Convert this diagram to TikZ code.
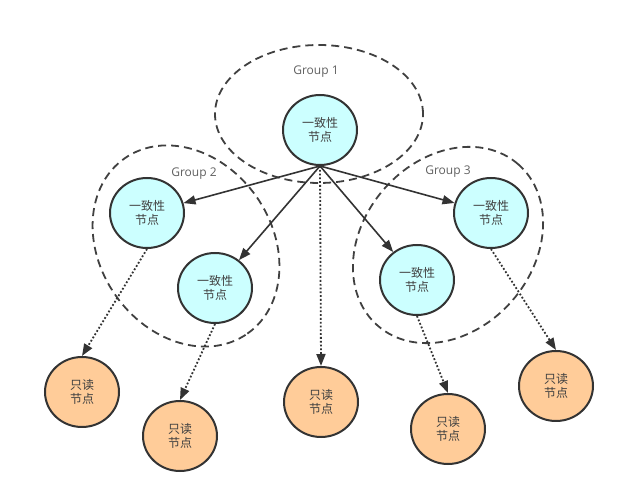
\documentclass[tikz,border=0pt]{standalone}
\usepackage{fontspec}
\setmainfont{Open Sans}
\newfontfamily\cjk{Noto Sans CJK SC}
\usetikzlibrary{arrows.meta,shapes.geometric}

\definecolor{nodeline}{HTML}{333333}
\definecolor{consfill}{HTML}{CCFFFF}
\definecolor{readfill}{HTML}{FFCC99}
\definecolor{labelgray}{HTML}{606060}

\begin{document}
\begin{tikzpicture}[x=1pt,y=1pt,
  cons/.style={ellipse, draw=nodeline, line width=2pt, fill=consfill,
    minimum width=74pt, minimum height=70pt, inner sep=0pt, align=center,
    font=\cjk\fontsize{12}{14}\selectfont, text=black!75},
  rnode/.style={cons, fill=readfill},
  group/.style={draw=black!75, line width=1.8pt, dash pattern=on 8pt off 5pt},
  glabel/.style={font=\fontsize{12}{14}\selectfont, text=labelgray},
  link/.style={draw=black!80, line width=1.6pt, -{Triangle[length=12pt,width=9pt]}},
  rlink/.style={link, line width=1.8pt, dotted}
]
\useasboundingbox (0,0) rectangle (623,500);
% groups
\draw[group] (319,386) ellipse [x radius=104, y radius=69];
\draw[group, rotate around={-55:(186,254)}] (186,254) ellipse [x radius=107, y radius=86];
\draw[group, rotate around={49:(448,255)}] (448,255) ellipse [x radius=107, y radius=85];
\node[glabel] (g1) at (316,428) {Group 1};
\node[glabel] (g2) at (194,326) {Group 2};
\node[glabel] (g3) at (448,328) {Group 3};
% consistency nodes
\node[cons] (c1) at (320,370) {一致性\\节点};
\node[cons] (c2) at (147,287) {一致性\\节点};
\node[cons] (c3) at (215,212) {一致性\\节点};
\node[cons] (c4) at (491,287) {一致性\\节点};
\node[cons] (c5) at (417,220) {一致性\\节点};
% read-only nodes
\node[rnode] (r1) at (82,108) {只读\\节点};
\node[rnode] (r2) at (180,64) {只读\\节点};
\node[rnode] (r3) at (321,98) {只读\\节点};
\node[rnode] (r4) at (448,71) {只读\\节点};
\node[rnode] (r5) at (556,114) {只读\\节点};
% links
\draw[link] (c1.south) -- (c2);
\draw[link] (c1.south) -- (c3);
\draw[link] (c1.south) -- (c4);
\draw[link] (c1.south) -- (c5);
\draw[rlink] (c1.south) -- (r3.north);
\draw[rlink] (c2.south) -- (r1.north);
\draw[rlink] (c3.south) -- (r2.north);
\draw[rlink] (c5.south) -- (r4.north);
\draw[rlink] (c4.south) -- (r5.north);
\end{tikzpicture}
\end{document}
